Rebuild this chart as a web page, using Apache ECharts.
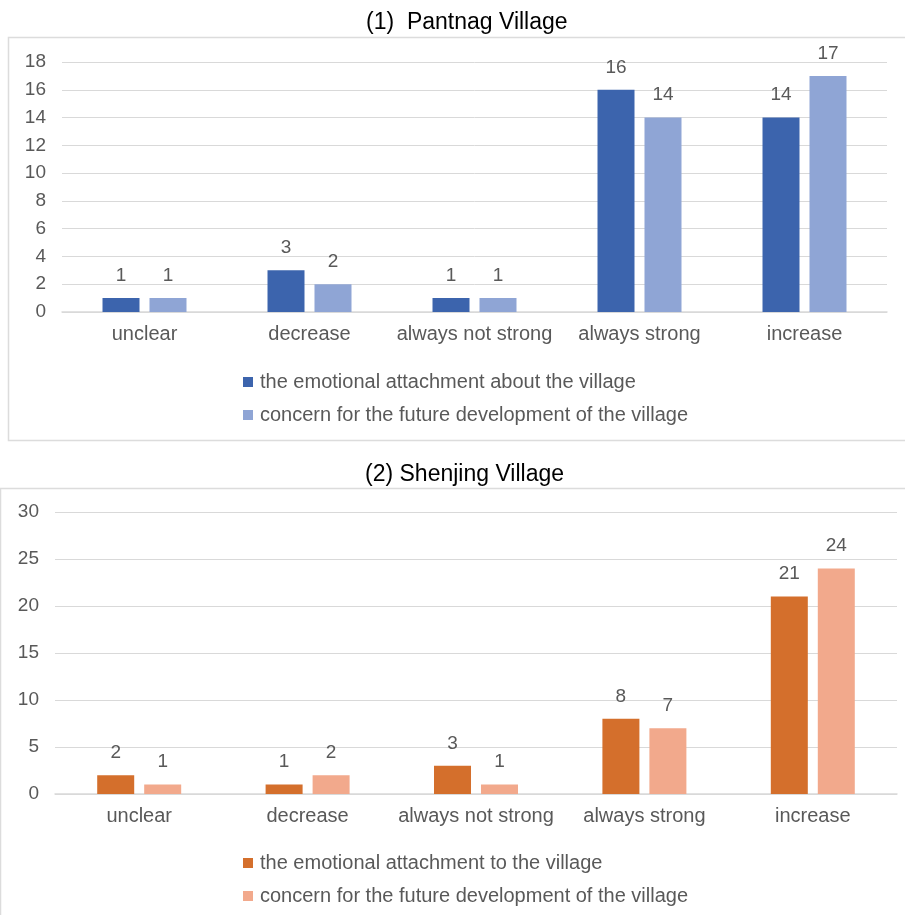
<!DOCTYPE html>
<html>
<head>
<meta charset="utf-8">
<script src="https://cdn.jsdelivr.net/npm/echarts@6/dist/echarts.min.js"></script>
<style>
  html, body { margin: 0; padding: 0; background: #fff; }
  #chart { width: 905px; height: 915px; }
</style>
</head>
<body>
<div id="chart"></div>
<script>
// categories shared by both panels
const categories = ['unclear', 'decrease', 'always not strong', 'always strong', 'increase'];

// (1) Pantnag Village
const pantnagAttachment = [1, 3, 1, 16, 14];
const pantnagConcern = [1, 2, 1, 14, 17];

// (2) Shenjing Village
const shenjingAttachment = [2, 1, 3, 8, 21];
const shenjingConcern = [1, 2, 1, 7, 24];

const FONT = 'Liberation Sans, Arial, sans-serif';
const GRAY = '#595959';
const LINE = '#d9d9d9';

const chart = echarts.init(document.getElementById('chart'));

const xAxisBase = {
  type: 'category',
  data: categories,
  axisTick: { show: false },
  axisLine: { lineStyle: { color: LINE, width: 1.5 } },
  axisLabel: { color: GRAY, fontSize: 20, fontFamily: FONT, margin: 12, interval: 0 }
};

const yAxisBase = {
  type: 'value',
  axisLine: { show: false },
  axisTick: { show: false },
  splitLine: { lineStyle: { color: LINE, width: 1 } },
  axisLabel: { color: GRAY, fontSize: 19, fontFamily: FONT, margin: 16 }
};

const labelStyle = { show: true, position: 'top', color: GRAY, fontSize: 19, fontFamily: FONT, distance: 13 };

function barSeries(name, data, color, idx) {
  return {
    name: name,
    type: 'bar',
    xAxisIndex: idx,
    yAxisIndex: idx,
    data: data,
    barWidth: 37,
    barGap: '27%',
    itemStyle: { color: color },
    label: labelStyle
  };
}

const legendText = { color: GRAY, fontSize: 20, fontFamily: FONT, padding: [0, 0, 0, 2] };
const titleText = { color: '#000', fontSize: 23, fontWeight: 'normal', fontFamily: FONT };

const option = {
  animation: false,
  backgroundColor: '#fff',
  graphic: [
    { type: 'rect', shape: { x: 8.5, y: 37.5, width: 905, height: 403 },
      style: { fill: 'none', stroke: '#dcdcdc', lineWidth: 1.5 } },
    { type: 'rect', shape: { x: 0.5, y: 488.5, width: 910, height: 440 },
      style: { fill: 'none', stroke: '#dcdcdc', lineWidth: 1.5 } }
  ],
  title: [
    { text: '(1)  Pantnag Village', left: 361, top: 6, textStyle: titleText },
    { text: '(2) Shenjing Village', left: 360, top: 458, textStyle: titleText }
  ],
  legend: [
    { orient: 'vertical', left: 238, top: 367, itemWidth: 10, itemHeight: 10, itemGap: 13,
      icon: 'rect', textStyle: legendText,
      data: ['the emotional attachment about the village', 'concern for the future development of the village '] },
    { orient: 'vertical', left: 238, top: 848, itemWidth: 10, itemHeight: 10, itemGap: 13,
      icon: 'rect', textStyle: legendText,
      data: ['the emotional attachment to the village', 'concern for the future development of the village'] }
  ],
  grid: [
    { left: 62, right: 18, top: 62, height: 250, containLabel: false },
    { left: 55, right: 8, top: 512, height: 282, containLabel: false }
  ],
  xAxis: [
    Object.assign({ gridIndex: 0 }, xAxisBase),
    Object.assign({ gridIndex: 1 }, xAxisBase)
  ],
  yAxis: [
    Object.assign({ gridIndex: 0, min: 0, max: 18, interval: 2 }, yAxisBase),
    Object.assign({ gridIndex: 1, min: 0, max: 30, interval: 5 }, yAxisBase)
  ],
  series: [
    barSeries('the emotional attachment about the village', pantnagAttachment, '#3c64ad', 0),
    barSeries('concern for the future development of the village ', pantnagConcern, '#8fa5d5', 0),
    barSeries('the emotional attachment to the village', shenjingAttachment, '#d46f2c', 1),
    barSeries('concern for the future development of the village', shenjingConcern, '#f2a98c', 1)
  ]
};

chart.setOption(option);
</script>
</body>
</html>
